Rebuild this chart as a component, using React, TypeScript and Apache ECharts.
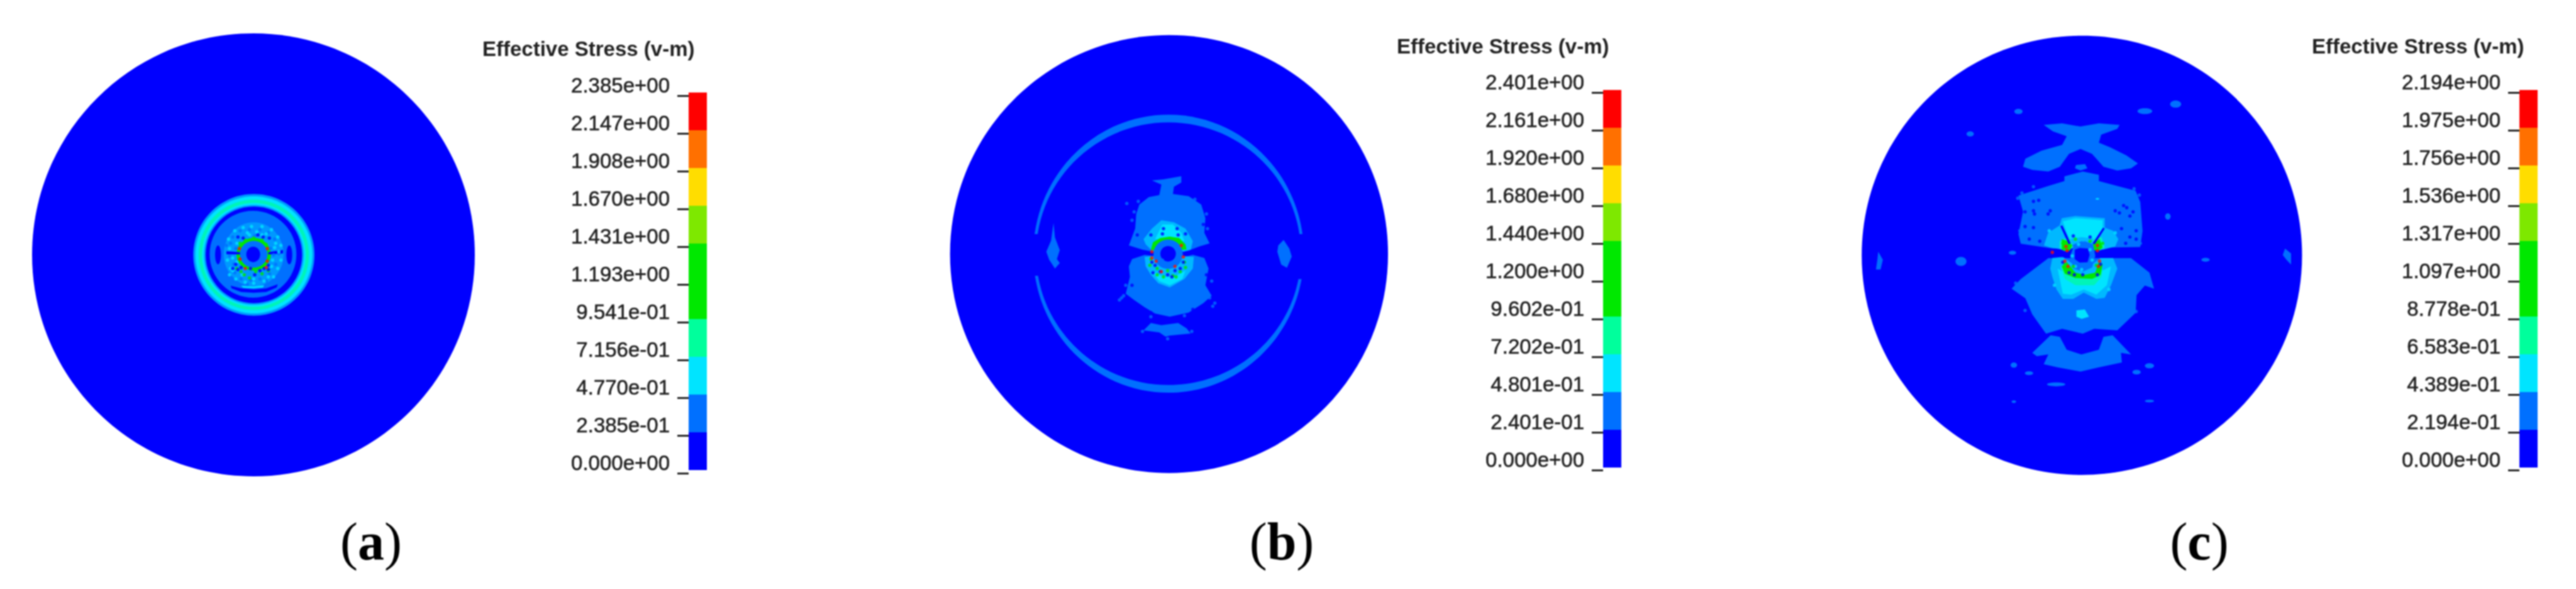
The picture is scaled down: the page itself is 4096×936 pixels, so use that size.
import React, { useEffect, useRef } from "react";
import * as echarts from "echarts";

// Fringe palette (legend bands, bottom to top)
const bandColors = ["#0000ff","#0070ff","#00e4ff","#00ff9c","#00e800","#00e800","#7ee800","#ffdd00","#ff7000","#ff0000"];
const D = "#0000ff", M = "#0070ff", L = "#0098ff", S = "#00b8ff", C = "#00e4ff", T = "#00f4b8", G = "#00e800", R = "#ff1000";

const titleText = "Effective Stress (v-m)";
const ticksA = ["0.000e+00","2.385e-01","4.770e-01","7.156e-01","9.541e-01","1.193e+00","1.431e+00","1.670e+00","1.908e+00","2.147e+00","2.385e+00"];
const ticksB = ["0.000e+00","2.401e-01","4.801e-01","7.202e-01","9.602e-01","1.200e+00","1.440e+00","1.680e+00","1.920e+00","2.161e+00","2.401e+00"];
const ticksC = ["0.000e+00","2.194e-01","4.389e-01","6.583e-01","8.778e-01","1.097e+00","1.317e+00","1.536e+00","1.756e+00","1.975e+00","2.194e+00"];

// Shapes: ["e", cx, cy, rx, ry, colour] or ["p", colour, [x,y, x,y, ...]]
// Panel (a), whole disc, units = px from centre
const discA: any[] = [["e", 0, 0, 352, 352, D]];
// Panel (a), centre, crop units
const detailA: any[] = [
  ["e",461,375,289,290,L],["e",461,375,279,279,C],["e",461,375,263,263,T],["e",461,375,247,247,C],["e",461,375,238,238,L],
  ["e",461,375,230,230,D],["e",457,372,207,207,M],
  ["e",290,375,14,45,D],["e",630,375,14,45,D],
  ["p",D,[350,522,400,535,460,540,520,535,575,515,570,530,520,552,460,556,400,552,355,535]],
  ["e",460,372,143,152,L],
  ["p",C,[400,522,460,526,510,520,505,530,460,534,410,532]],
  ["e",460,372,82,78,G],["e",460,372,66,64,M],["e",458,373,33,37,D],
  ["p",D,[330,358,395,362,395,373,330,372]],["p",D,[530,362,600,352,600,368,530,373]],
];
const aCyan = [[340,300],[370,260],[410,245],[450,240],[500,240],[545,255],[575,290],[590,330],[345,345],[335,400],[350,440],[345,470],[375,490],[420,505],[460,510],[510,500],[555,480],[575,440],[590,400],[560,340],[565,320],[430,270],[475,265],[520,275],[380,320],[360,390],[380,410],[550,400],[545,430],[530,480],[405,470],[460,490],[440,280],[500,280],[360,450],[580,360]];
const aMid = [[360,290],[395,260],[440,255],[490,255],[530,270],[560,300],[345,380],[365,420],[370,460],[400,490],[445,495],[490,490],[535,465],[565,420],[580,370],[465,285],[330,330],[600,300],[350,320],[540,345],[555,375],[375,345],[520,500],[430,515]];
const aDark = [[385,290],[410,295],[505,290],[535,295],[385,445],[400,435],[445,440],[465,470],[510,440],[530,425],[490,450],[375,420],[360,440],[480,280],[530,445]];
const aGreen = [[395,320],[420,305],[500,305],[520,325],[415,470],[500,465],[440,485],[380,440],[530,450],[460,295],[400,455],[470,455]];
const aRed = [[392,345],[395,395],[525,345],[525,405],[520,435],[420,440]];

// Panel (b), whole disc, crop units
const discB: any[] = [
  ["e",495,752,455,682,D],
  ["e",494,751,281,433,M],["e",494,751,275,409,D],
  ["p",D,[190,690,245,690,245,820,190,820]],["p",D,[745,690,800,690,800,830,745,830]],
  ["p",M,[255,655,258,700,268,740,262,768,268,780,258,797,246,770,240,745,250,710]],
  ["p",M,[733,708,745,735,750,760,740,795,728,785,720,745,722,725]],
];
// Panel (b), centre, crop units
const detailB: any[] = [
  ["p",M,[135,450,165,370,170,300,185,255,230,220,280,210,290,160,245,140,300,135,385,120,385,150,350,170,345,205,420,215,480,255,500,320,495,390,520,440,470,455,420,475,390,480,325,440,250,480,200,470]],
  ["p",M,[150,515,210,495,250,500,325,540,400,505,440,495,495,510,515,560,500,640,530,690,490,725,420,770,330,790,260,775,210,745,160,710,120,680,140,600,135,550]],
  ["p",M,[205,855,240,820,290,830,370,820,410,845,430,870,330,880,310,885,280,865]],
  ["p",S,[205,420,245,370,290,330,350,340,405,370,440,430,430,470,395,480,325,440,250,480,215,445]],
  ["p",C,[260,420,295,350,345,350,385,390,400,430,330,420]],
  ["p",S,[210,505,250,500,325,520,390,500,445,505,440,560,400,610,330,650,275,630,240,590,215,550]],
  ["p",C,[245,570,300,600,350,600,405,570,390,610,330,640,280,620]],
  ["p",G,[240,470,250,435,285,415,330,408,375,415,405,445,410,470,385,470,370,445,330,430,285,445,265,475]],
  ["e",322,492,70,70,M],["e",322,490,37,37,D],
];
const bDark = [[260,545],[285,575],[320,590],[355,570],[380,560],[395,530],[245,530],[240,400],[295,395],[370,400],[405,395],[250,580],[340,600],[300,370],[365,370]];
const bGreen = [[240,515],[235,545],[270,590],[300,600],[345,595],[380,575],[400,530],[405,555],[270,560],[320,570],[360,600]];
const bMid = [[90,710],[545,725],[125,250],[100,700],[535,740],[330,535],[295,520],[150,330],[160,290],[505,300],[510,370],[180,240],[450,230],[120,640],[530,620],[110,690],[520,700],[240,790],[400,785],[200,860],[435,860],[320,895]];
const bDarkEdge = [[175,400],[490,350],[150,640],[505,590],[240,770],[440,755]];
const bRed = [[385,450],[245,480],[395,505],[265,525],[355,550],[290,575],[245,510]];

// Panel (c), whole disc, crop units
const discC: any[] = [
  ["e",493,756,479,684,D],
  ["p",M,[410,350,450,345,490,355,530,345,575,350,570,362,535,380,530,405,555,420,590,445,615,470,600,485,570,492,540,480,515,440,490,425,465,440,445,480,420,495,385,490,365,480,370,455,405,430,450,412,460,385,430,370]],
  ["p",M,[480,475,500,472,505,485,490,492,478,485]],
  ["p",M,[455,510,495,495,530,505,530,525,570,540,610,555,620,590,625,680,620,730,430,735,360,720,355,690,365,620,355,570,420,540,455,525]],
  ["p",M,[360,830,420,765,600,765,640,810,650,860,630,850,612,880,610,935,570,990,520,985,495,1000,450,985,415,1000,385,940,370,890,340,860]],
  ["p",M,[385,1060,425,1005,445,1010,460,1050,492,1065,530,1050,540,1010,560,1005,600,1065,578,1060,580,1090,530,1105,490,1118,440,1105,410,1095,420,1065,395,1070]],
  ["e",355,308,9,8,M],["e",630,307,16,9,M],["e",697,285,12,11,M],["e",250,378,8,8,M],
  ["e",345,1098,7,8,M],["e",640,1100,10,8,M],["e",378,1123,9,6,M],["e",612,1120,9,7,M],["e",437,1158,20,6,M],
  ["e",640,1210,10,4,M],["e",345,1212,5,4,M],
  ["p",M,[50,745,60,770,55,800,45,800,48,770]],["p",M,[935,735,948,750,948,785,938,770,930,755]],
  ["e",230,775,12,14,M],["e",762,770,9,6,M],["e",680,635,6,10,M],["e",342,748,8,6,M],
];
// Panel (c), centre, crop units
const detailC: any[] = [
  ["p",S,[150,510,170,450,225,415,235,380,300,370,370,375,440,380,440,425,480,440,505,480,490,515,430,530,400,510,330,490,280,510,240,530,180,520]],
  ["p",C,[240,395,300,380,430,390,430,430,400,480,330,470,270,480]],
  ["p",S,[190,570,240,565,290,600,380,600,420,570,480,570,500,620,470,700,440,760,400,765,340,735,290,765,240,765,210,720,190,660,180,620]],
  ["p",C,[215,620,250,640,300,670,380,670,430,630,470,610,450,700,400,745,340,720,280,745,240,740]],
  ["p",T,[230,610,290,650,380,650,430,620,425,660,390,700,300,700,250,670]],
  ["p",C,[305,820,345,815,365,850,330,860,305,850]],
  ["p",T,[225,490,270,470,290,520,255,540,225,525]],
  ["p",T,[385,480,425,470,440,520,410,540,385,525]],
  ["p",G,[235,610,260,590,300,640,345,650,395,640,410,590,430,600,420,650,380,670,300,665,250,645]],
  ["p",G,[235,480,265,490,285,510,270,540,235,530]],["p",G,[385,500,415,480,430,520,405,540,385,530]],
  ["p",D,[228,418,238,415,278,500,268,505]],["p",D,[432,425,440,430,392,505,382,500]],
  ["p",D,[180,540,290,535,290,570,180,560]],["p",D,[380,535,480,530,480,565,380,570]],
  ["p",M,[275,560,295,505,345,490,385,505,395,560,380,615,335,635,290,620]],
  ["p",D,[297,530,320,522,360,525,368,555,358,590,320,592,297,575]],
  ["e",405,288,9,4,C],
];
const cDark = [[100,300],[125,295],[60,350],[100,345],[180,345],[170,360],[490,345],[510,355],[530,320],[560,370],[545,330],[520,430],[590,480],[560,470],[80,480],[100,425],[60,420],[590,440],[130,490],[540,500],[295,650],[335,650],[405,650],[270,640],[370,470],[290,465],[240,590],[420,600],[105,360],[575,350]];
const cGreen = [[300,480],[370,490],[250,600],[290,610],[400,605],[240,500],[430,500]];
const cCyan = [[315,505],[370,530],[380,580],[300,610],[330,625],[285,560],[175,440],[490,450],[200,700],[460,720]];
const cMid = [[25,285],[35,440],[605,270],[610,500],[15,690],[640,650],[60,820],[590,825],[45,260],[580,240],[100,230]];
const cRed = [[260,535],[405,535],[255,515],[415,585],[265,610],[190,543],[405,510],[250,585],[410,610]];

const panels = [
  {
    disc: { left: 51, top: 53, width: 704, height: 704, x: [-352, 352], y: [-352, 352], shapes: discA },
    detail: { left: 250, top: 280, width: 300, height: 250, x: [0, 900], y: [0, 750], shapes: detailA },
    dots: [[aMid, M], [aCyan, C], [aGreen, G], [aDark, D], [aRed, R]],
    ticks: ticksA, barLeft: 1095, barTop: 147, tickTop: 152, titleX: 767, titleY: 77, caption: "a", captionX: 590,
  },
  {
    disc: { left: 1480, top: 20, width: 1200, height: 800, x: [0, 1568], y: [0, 1568], shapes: discB },
    detail: { left: 1750, top: 240, width: 220, height: 300, x: [0, 660], y: [0, 900], shapes: detailB },
    dots: [[bMid, M], [bGreen, G], [bDark, D], [bDarkEdge, D], [bRed, R]],
    ticks: ticksB, barLeft: 2549, barTop: 143, tickTop: 147, titleX: 2221, titleY: 73, caption: "b", captionX: 2038,
  },
  {
    disc: { left: 2950, top: 20, width: 1146, height: 800, x: [0, 1568], y: [0, 1568], shapes: discC },
    detail: { left: 3200, top: 220, width: 220, height: 340, x: [0, 660], y: [0, 1020], shapes: detailC },
    dots: [[cMid, M], [cCyan, C], [cGreen, G], [cDark, D], [cRed, R]],
    ticks: ticksC, barLeft: 4006, barTop: 143, tickTop: 147, titleX: 3676, titleY: 73, caption: "c", captionX: 3497,
  },
];

function buildOption() {
  const grid: any[] = [], xAxis: any[] = [], yAxis: any[] = [], series: any[] = [], graphic: any[] = [];
  const addGrid = (left: number, top: number, width: number, height: number, x: number[], y: number[], inverse: boolean) => {
    const i = grid.length;
    grid.push({ left, top, width, height, containLabel: false });
    xAxis.push({ type: "value", gridIndex: i, min: x[0], max: x[1], show: false });
    yAxis.push({ type: "value", gridIndex: i, min: y[0], max: y[1], inverse, show: false });
    return i;
  };
  const addShapes = (shapes: any[], idx: number, z: number) => {
    series.push({
      type: "custom", coordinateSystem: "cartesian2d", xAxisIndex: idx, yAxisIndex: idx, z, clip: false, silent: true,
      data: shapes.map((_, i) => [i, 0]),
      renderItem: (params: any, api: any) => {
        const s = shapes[params.dataIndex];
        if (s[0] === "e") {
          const c = api.coord([s[1], s[2]]);
          const sz = api.size([s[3], s[4]]);
          return { type: "ellipse", shape: { cx: c[0], cy: c[1], rx: sz[0], ry: sz[1] }, style: { fill: s[5] } };
        }
        const pts: number[][] = [];
        for (let k = 0; k < s[2].length; k += 2) pts.push(api.coord([s[2][k], s[2][k + 1]]));
        return { type: "polygon", shape: { points: pts }, style: { fill: s[1] } };
      },
    });
  };

  panels.forEach((p) => {
    const g0 = addGrid(p.disc.left, p.disc.top, p.disc.width, p.disc.height, p.disc.x, p.disc.y, true);
    addShapes(p.disc.shapes, g0, 1);
    const g1 = addGrid(p.detail.left, p.detail.top, p.detail.width, p.detail.height, p.detail.x, p.detail.y, true);
    addShapes(p.detail.shapes, g1, 2);
    p.dots.forEach(([pts, color]: any) => {
      series.push({
        type: "scatter", xAxisIndex: g1, yAxisIndex: g1, z: 3, silent: true, data: pts,
        symbol: "circle", symbolSize: 5.5, itemStyle: { color },
      });
    });

    // Colour bar
    const g2 = addGrid(p.barLeft, p.barTop, 29, 600, [0, 1], [0, 10], false);
    series.push({
      type: "custom", coordinateSystem: "cartesian2d", xAxisIndex: g2, yAxisIndex: g2, z: 4, silent: true,
      data: bandColors.map((_, i) => [i, 0]),
      renderItem: (params: any, api: any) => {
        const i = params.dataIndex;
        const a = api.coord([0, i + 1]);
        const b = api.coord([1, i]);
        return { type: "rect", shape: { x: a[0], y: a[1], width: b[0] - a[0], height: b[1] - a[1] }, style: { fill: bandColors[i] } };
      },
    });

    // Tick labels
    const g3 = grid.length;
    grid.push({ left: p.barLeft, top: p.tickTop, width: 29, height: 600 });
    xAxis.push({ type: "value", gridIndex: g3, min: 0, max: 1, show: false });
    yAxis.push({
      type: "value", gridIndex: g3, min: 0, max: 10, interval: 1, position: "left",
      axisLine: { show: false }, splitLine: { show: false },
      axisTick: { show: true, length: 18, lineStyle: { color: "#222", width: 3 } },
      axisLabel: {
        show: true, margin: 30, color: "#222", fontFamily: "Liberation Sans", fontSize: 33, verticalAlign: "bottom", lineHeight: 33,
        textBorderColor: "#222", textBorderWidth: 0.6,
        showMinLabel: true, showMaxLabel: true, hideOverlap: false,
        formatter: (v: number) => p.ticks[Math.round(v)],
      },
    });

    graphic.push({
      type: "text", x: p.titleX, y: p.titleY, z: 10,
      style: { text: titleText, fontFamily: "Liberation Sans", fontWeight: "bold", fontSize: 33, fill: "#222", verticalAlign: "middle", align: "left" },
    });
    graphic.push({
      type: "text", x: p.captionX, y: 860, z: 10,
      style: {
        text: "{p|(}{b|" + p.caption + "}{p|)}", align: "center", verticalAlign: "middle", fill: "#000",
        rich: {
          p: { fontFamily: "Liberation Serif", fontSize: 84, fill: "#000" },
          b: { fontFamily: "Liberation Serif", fontSize: 84, fontWeight: "bold", fill: "#000" },
        },
      },
    });
  });

  return { animation: false, backgroundColor: "#fff", grid, xAxis, yAxis, series, graphic, tooltip: { show: false } };
}

export default function App() {
  const ref = useRef<HTMLDivElement>(null);
  useEffect(() => {
    const chart = echarts.init(ref.current!, undefined, { renderer: "svg" });
    chart.setOption(buildOption());
    return () => chart.dispose();
  }, []);
  return <div ref={ref} style={{ position: "absolute", left: 0, top: 0, width: 4096, height: 936, filter: "blur(0.8px)" }} />;
}
